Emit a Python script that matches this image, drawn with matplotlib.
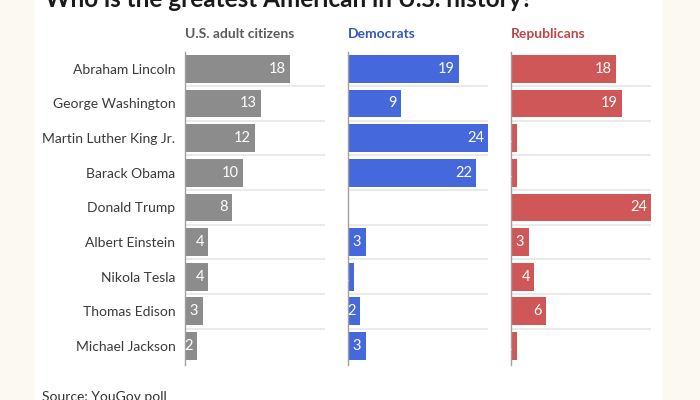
import matplotlib
matplotlib.use('Agg')
import matplotlib.pyplot as plt
from matplotlib.patches import Rectangle

plt.rcParams['font.family'] = ['Lato', 'DejaVu Sans']

# data (% naming each person)
names = ['Abraham Lincoln', 'George Washington', 'Martin Luther King Jr.',
         'Barack Obama', 'Donald Trump', 'Albert Einstein', 'Nikola Tesla',
         'Thomas Edison', 'Michael Jackson']
adults = [18, 13, 12, 10, 8, 4, 4, 3, 2]
democrats = [19, 9, 24, 22, 0, 3, 1, 2, 3]
republicans = [18, 19, 1, 1, 24, 3, 4, 6, 1]

headers = ['U.S. adult citizens', 'Democrats', 'Republicans']
bar_colors = ['#8c8c8c', '#4569dc', '#d05757']
head_colors = ['#5b5b5b', '#3457b8', '#bf4646']

fig = plt.figure(figsize=(7, 4), dpi=100)
fig.patch.set_facecolor('white')
# cream strips at the sides of the screenshot
fig.patches.append(Rectangle((0, 0), 33/700, 1, transform=fig.transFigure,
                             color='#fcf8f2', zorder=-1))
fig.patches.append(Rectangle((663/700, 0), 37/700, 1, transform=fig.transFigure,
                             color='#fcf8f2', zorder=-1))

lefts = [185/700, 348/700, 511/700]
bottom = 1 - 365/400
height = (365 - 51.5)/400
rows = list(range(len(names)))

for k, vals in enumerate([adults, democrats, republicans]):
    ax = fig.add_axes([lefts[k], bottom, 140/700, height])
    ax.barh(rows, vals, height=0.8, color=bar_colors[k], zorder=2)
    ax.hlines([r + 0.5 for r in rows[:-1]], 0, 24, color='#e6e6e6', lw=1.2, zorder=1)
    ax.set_xlim(0, 24)
    ax.set_ylim(8.55, -0.5)
    for s in ['top', 'right', 'bottom']:
        ax.spines[s].set_visible(False)
    ax.spines['left'].set_color('#a0a0a0')
    ax.spines['left'].set_linewidth(1)
    ax.set_xticks([])
    if k == 0:
        ax.set_yticks(rows)
        ax.set_yticklabels(names, fontsize=10, color='#3a3a3a')
        ax.tick_params(axis='y', length=0, pad=7)
    else:
        ax.set_yticks([])
    for r, v in zip(rows, vals):
        if v > 0:
            ax.annotate(str(v), xy=(v, r), xytext=(-3, 0), textcoords='offset points',
                        ha='right', va='center', color='white', fontsize=10.5,
                        annotation_clip=False, clip_on=True)
    ax.annotate(headers[k], xy=(0, 1), xycoords='axes fraction', xytext=(0, 10),
                textcoords='offset points', ha='left', va='baseline',
                fontsize=10, fontweight='bold', color=head_colors[k])

fig.text(45/700, 1 - 7/400, 'Who is the greatest American in U.S. history?',
         fontsize=17.5, fontweight='bold', color='#1a1a1a', va='baseline')
fig.text(42/700, -0.002, 'Source: YouGov poll', fontsize=10, color='#333333',
         va='baseline')

fig.savefig('out.png', dpi=100)
